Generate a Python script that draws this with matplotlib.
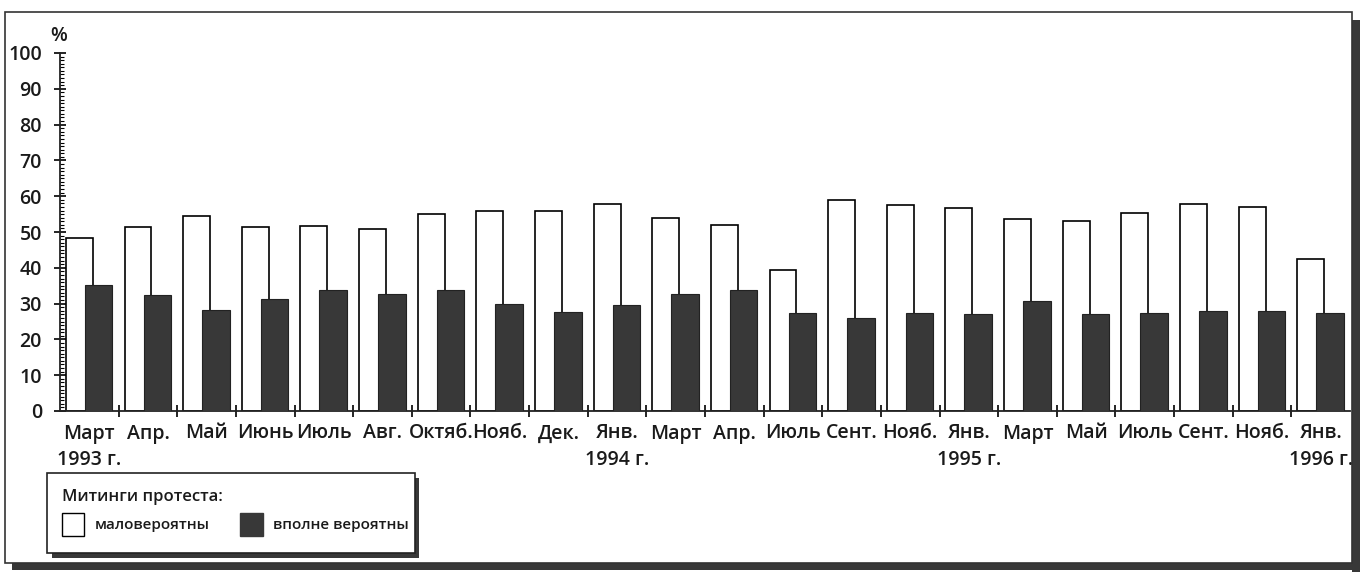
import matplotlib
matplotlib.use("Agg")
import matplotlib.pyplot as plt
from matplotlib.patches import Rectangle, Patch
from matplotlib.ticker import MultipleLocator, FixedLocator, NullFormatter
import numpy as np

plt.rcParams['font.family'] = ['Open Sans', 'DejaVu Sans']
plt.rcParams['font.weight'] = 'semibold'

# ---- data ----
categories = ["Март\n1993 г.", "Апр.", "Май", "Июнь", "Июль", "Авг.", "Октяб.",
              "Нояб.", "Дек.", "Янв.\n1994 г.", "Март", "Апр.", "Июль", "Сент.",
              "Нояб.", "Янв.\n1995 г.", "Март", "Май", "Июль", "Сент.", "Нояб.",
              "Янв.\n1996 г."]
unlikely = [48.4, 51.4, 54.5, 51.5, 51.7, 50.8, 55.0, 55.9, 55.9, 57.9, 53.8,
            51.9, 39.3, 58.9, 57.6, 56.7, 53.6, 53.1, 55.3, 57.7, 57.0, 42.5]
likely = [35.3, 32.3, 28.2, 31.4, 33.7, 32.8, 33.9, 29.8, 27.6, 29.7, 32.6,
          33.9, 27.5, 26.0, 27.5, 27.2, 30.7, 27.1, 27.3, 27.8, 27.8, 27.5]
series_names = ["маловероятны", "вполне вероятны"]
legend_title = "Митинги протеста:"
y_ticks = [0, 10, 20, 30, 40, 50, 60, 70, 80, 90, 100]

W, H = 1370, 572
DARK = "#383838"
TXT = "#1a1a1a"

fig = plt.figure(figsize=(W / 100, H / 100), dpi=100)
fig.patch.set_facecolor("white")

def fx(px):
    return px / W

def fy(py):
    return 1 - py / H

ax = fig.add_axes([fx(60), fy(411), fx(1350) - fx(60), fy(53) - fy(411)])

x = np.arange(len(categories))
ax.bar(x - 0.17, unlikely, width=0.46, facecolor="white", edgecolor="black",
       linewidth=1.2, zorder=2)
ax.bar(x + 0.16, likely, width=0.47, facecolor=DARK, edgecolor="#222222",
       linewidth=0.8, zorder=3)

ax.set_xlim(-0.5, len(categories) - 0.5)
ax.set_ylim(0, 100)

for s in ["top", "right"]:
    ax.spines[s].set_visible(False)
for s in ["left", "bottom"]:
    ax.spines[s].set_linewidth(1.3)
    ax.spines[s].set_color("#222222")

# y ticks
ax.yaxis.set_major_locator(FixedLocator(y_ticks))
ax.yaxis.set_minor_locator(MultipleLocator(1))
ax.tick_params(axis="y", which="major", direction="inout", length=8, width=1.2,
               labelsize=14, pad=9, labelcolor=TXT)
ax.tick_params(axis="y", which="minor", direction="in", length=3, width=0.8)

# x: group separator ticks (major) and labels at group centres (minor)
ax.xaxis.set_major_locator(FixedLocator(np.arange(0.5, len(categories) - 1, 1.0)))
ax.xaxis.set_major_formatter(NullFormatter())
ax.xaxis.set_minor_locator(FixedLocator(x))
ax.set_xticklabels(categories, minor=True)
ax.tick_params(axis="x", which="major", direction="inout", length=9, width=1.2)
ax.tick_params(axis="x", which="minor", length=0, labelsize=14, pad=9,
               labelcolor=TXT)
for lbl in ax.get_xticklabels(minor=True):
    lbl.set_linespacing(1.45)

ax.text(fx(59), fy(36), "%", transform=fig.transFigure, fontsize=14,
        ha="center", va="center", color=TXT)

# outer frame with shadow
fig.add_artist(Rectangle((fx(12), fy(570)), fx(1360) - fx(12), fy(563) - fy(570),
                         transform=fig.transFigure, facecolor=DARK, edgecolor="none"))
fig.add_artist(Rectangle((fx(1352), fy(572)), fx(1360) - fx(1352), fy(20) - fy(572),
                         transform=fig.transFigure, facecolor=DARK, edgecolor="none"))
fig.add_artist(Rectangle((fx(5), fy(563)), fx(1352) - fx(5), fy(12) - fy(563),
                         transform=fig.transFigure, fill=False, edgecolor="#333333",
                         linewidth=1.2))

# legend box with shadow
fig.add_artist(Rectangle((fx(52), fy(558)), fx(419) - fx(52), fy(478) - fy(558),
                         transform=fig.transFigure, facecolor=DARK, edgecolor="none"))
fig.add_artist(Rectangle((fx(47), fy(553)), fx(415) - fx(47), fy(473) - fy(553),
                         transform=fig.transFigure, facecolor="white",
                         edgecolor="#222222", linewidth=1.2))

handles = [Patch(facecolor="white", edgecolor="black", linewidth=1.0),
           Patch(facecolor=DARK, edgecolor=DARK)]
leg = fig.legend(handles, series_names, title=legend_title, ncol=2,
                 loc="upper left", bbox_to_anchor=(fx(62), fy(489)),
                 frameon=False, alignment="left", fontsize=11,
                 title_fontsize=12, handlelength=1.45, handleheight=1.95,
                 handletextpad=0.7, columnspacing=2.0, borderpad=0,
                 borderaxespad=0)
leg.set_zorder(5)
for t in leg.get_texts():
    t.set_color(TXT)
leg.get_title().set_color(TXT)

fig.savefig("out.png", dpi=100, facecolor="white")
